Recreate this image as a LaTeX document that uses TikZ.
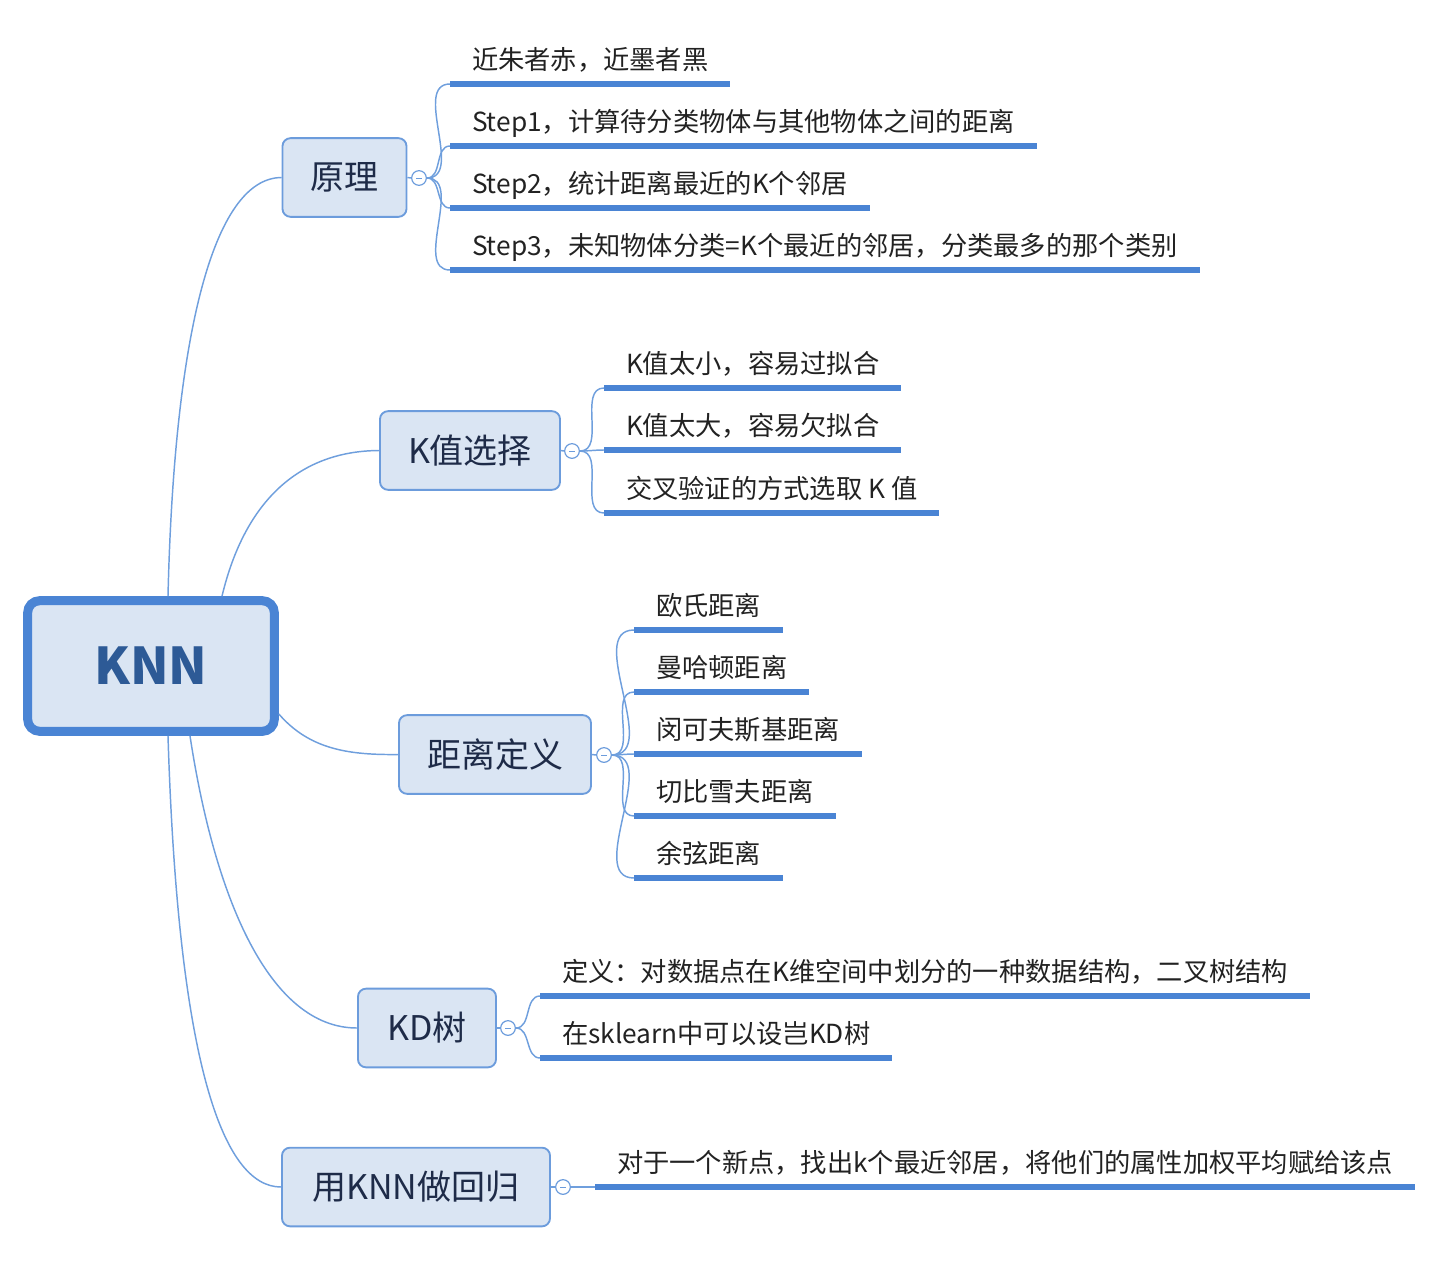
\documentclass[tikz,border=0pt]{standalone}
\usepackage{fontspec}
\setmainfont{Noto Sans CJK SC}
\definecolor{fillc}{HTML}{DAE5F3}
\definecolor{rootc}{HTML}{4A84D4}
\definecolor{boxc}{HTML}{6C9CDC}
\definecolor{connc}{HTML}{6F9FDD}
\definecolor{ulc}{HTML}{4A84D4}
\definecolor{knnc}{HTML}{2D5A96}
\definecolor{topicc}{HTML}{1E2B48}
\definecolor{leafc}{HTML}{222222}
\begin{document}
\begin{tikzpicture}[x=0.75pt,y=-0.75pt,
 root/.style={draw=rootc, line width=6.75pt, fill=fillc, rounded corners=9pt,
   minimum width=185pt, minimum height=98pt, inner sep=0pt,
   font=\fontsize{38}{44}\selectfont\bfseries, text=knnc},
 topic/.style={draw=boxc, line width=1.4pt, fill=fillc, rounded corners=6pt,
   minimum height=59pt, inner sep=0pt, font=\fontsize{25.5}{30}\selectfont, text=topicc},
 fold/.style={circle, draw=boxc, fill=white, line width=0.9pt, minimum size=11pt, inner sep=0pt,
   path picture={\draw[boxc, line width=0.6pt] ([xshift=-2.2pt]path picture bounding box.center) -- ([xshift=2.2pt]path picture bounding box.center);}},
 leaf/.style={anchor=south west, inner xsep=16.5pt, inner ysep=11pt, text depth=0pt,
   outer sep=0pt, font=\fontsize{19.7}{23}\selectfont, text=leafc},
 uline/.style={draw=ulc, line width=3.9pt},
 conn/.style={draw=connc, line width=1.1pt},
 branch/.style={draw=connc, line width=1.1pt, out=0, in=180},
]
\useasboundingbox (0,0) rectangle (1438,1264);

% root and topics
\node[root] (knn) at (151,666) {KNN};
\node[topic, minimum width=93pt] (yl) at (344.5,177.5) {原理};
\node[topic, minimum width=135pt] (kz) at (470,450.5) {K值选择};
\node[topic, minimum width=144pt] (jl) at (495,754.5) {距离定义};
\node[topic, minimum width=103.5pt] (kd) at (427,1028) {KD树};
\node[topic, minimum width=201pt] (hg) at (416,1187) {用KNN做回归};

% fold circles
\node[fold] (fyl) at (419,178) {};
\node[fold] (fkz) at (572,451) {};
\node[fold] (fjl) at (604,755) {};
\node[fold] (fkd) at (508,1028) {};
\node[fold] (fhg) at (563,1187) {};

% leaves
\node[leaf] (a1) at (450,84) {近朱者赤，近墨者黑};
\node[leaf] (a2) at (450,146) {Step1，计算待分类物体与其他物体之间的距离};
\node[leaf] (a3) at (450,208) {Step2，统计距离最近的K个邻居};
\node[leaf] (a4) at (450,270) {Step3，未知物体分类=K个最近的邻居，分类最多的那个类别};

\node[leaf] (b1) at (604,388) {K值太小，容易过拟合};
\node[leaf] (b2) at (604,450) {K值太大，容易欠拟合};
\node[leaf] (b3) at (604,513) {交叉验证的方式选取 K 值};

\node[leaf] (c1) at (634,630) {欧氏距离};
\node[leaf] (c2) at (634,692) {曼哈顿距离};
\node[leaf] (c3) at (634,754) {闵可夫斯基距离};
\node[leaf] (c4) at (634,816) {切比雪夫距离};
\node[leaf] (c5) at (634,878) {余弦距离};

\node[leaf] (d1) at (540,996) {定义：对数据点在K维空间中划分的一种数据结构，二叉树结构};
\node[leaf] (d2) at (540,1058) {在sklearn中可以设岂KD树};

\node[leaf] (e1) at (595,1187) {对于一个新点，找出k个最近邻居，将他们的属性加权平均赋给该点};

% underlines
\foreach \n in {a1,a2,a3,a4,b1,b2,b3,c1,c2,c3,c4,c5,d1,d2,e1}
  \draw[uline] (\n.south west) -- (\n.south east);

% root connectors
\draw[conn] ([xshift=12.75pt]knn.north) .. controls (174,340) and (212,178) .. (yl.west);
\draw[conn] ([xshift=53.25pt]knn.north) .. controls (245,500) and (300,451) .. (kz.west);
\draw[conn] ([yshift=-36pt]knn.east) .. controls (310,750) and (350,755) .. (jl.west);
\draw[conn] ([xshift=29.25pt]knn.south) .. controls (215,900) and (270,1028) .. (kd.west);
\draw[conn] ([xshift=12.75pt]knn.south) .. controls (178,1060) and (222,1187) .. (hg.west);

% topic to fold
\foreach \t/\f in {yl/fyl,kz/fkz,jl/fjl,kd/fkd,hg/fhg}
  \draw[conn] (\t.east) -- (\f.west);

% branches
\foreach \l in {a1,a2,a3,a4} \draw[branch] (fyl.east) to (\l.south west);
\foreach \l in {b1,b2,b3} \draw[branch] (fkz.east) to (\l.south west);
\foreach \l in {c1,c2,c3,c4,c5} \draw[branch] (fjl.east) to (\l.south west);
\foreach \l in {d1,d2} \draw[branch] (fkd.east) to (\l.south west);
\draw[conn] (fhg.east) -- (e1.south west);
\end{tikzpicture}
\end{document}
